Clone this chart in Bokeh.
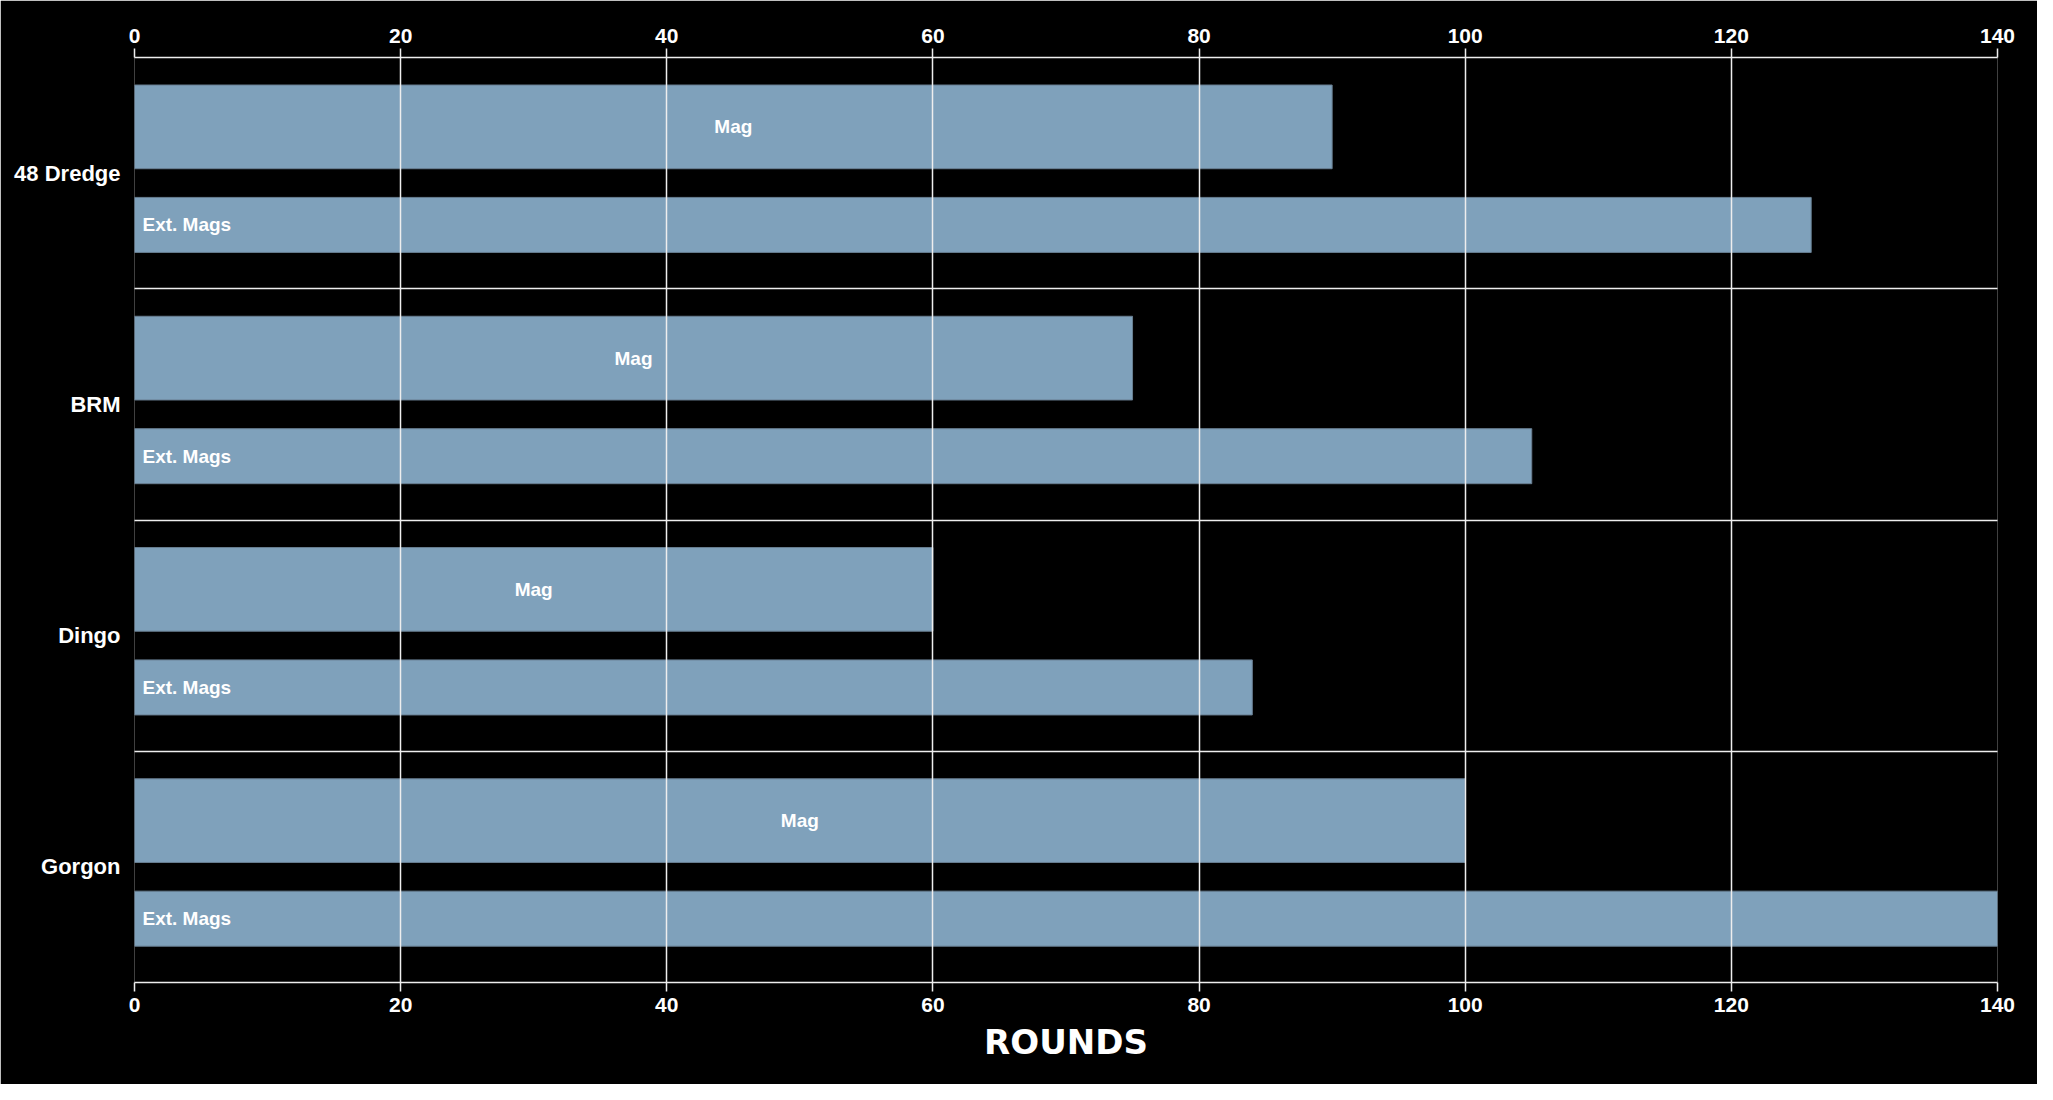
from bokeh.plotting import figure
from bokeh.models import ColumnDataSource, FixedTicker, LinearAxis, Range1d
from bokeh.core.properties import value
from bokeh.embed import file_html
from bokeh.resources import INLINE

categories = ["48 Dredge", "BRM", "Dingo", "Gorgon"]
mag_rounds = [90, 75, 60, 100]
ext_rounds = [126, 105, 84, 140]
bar_labels = ["Mag", "Ext. Mags"]
x_ticks = [0, 20, 40, 60, 80, 100, 120, 140]

n = len(categories)
tops = [n - i for i in range(n)]
mag_y = [t - 0.300 for t in tops]
ext_y = [t - 0.724 for t in tops]
cat_y = [t - 0.5 for t in tops]

FONT = "Liberation Sans"
BAR = "#7fa1bb"
EDGE = "#687e91"
GRID = "#eeeeee"

p = figure(width=2037, height=1084, output_backend="svg", toolbar_location=None,
           x_range=Range1d(0, 140), y_range=Range1d(0, n),
           x_axis_location=None, y_axis_location=None,
           min_border_left=134, min_border_right=40, min_border_top=57, min_border_bottom=102)
p.background_fill_color = "black"
p.border_fill_color = "black"
p.outline_line_color = None

mag_src = ColumnDataSource(dict(y=mag_y, right=mag_rounds, lx=[v / 2 for v in mag_rounds],
                                label=[bar_labels[0]] * n))
ext_src = ColumnDataSource(dict(y=ext_y, right=ext_rounds, lx=[0] * n,
                                label=[bar_labels[1]] * n))

p.hbar(y="y", left=0, right="right", height=0.362, source=mag_src,
       fill_color=BAR, line_color=EDGE, line_width=1)
p.hbar(y="y", left=0, right="right", height=0.238, source=ext_src,
       fill_color=BAR, line_color=EDGE, line_width=1)

p.text(x="lx", y="y", text="label", source=mag_src, text_align="center",
       text_baseline="middle", text_color="white", text_font=value(FONT),
       text_font_style="bold", text_font_size="19px")
p.text(x="lx", y="y", text="label", source=ext_src, text_align="left",
       text_baseline="middle", x_offset=8, text_color="white", text_font=value(FONT),
       text_font_style="bold", text_font_size="19px")

def style_x(ax):
    ax.ticker = FixedTicker(ticks=x_ticks)
    ax.axis_line_color = GRID
    ax.axis_line_width = 1.5
    ax.major_tick_line_color = GRID
    ax.major_tick_line_width = 1.5
    ax.major_tick_out = 9
    ax.major_tick_in = 0
    ax.minor_tick_line_color = None
    ax.major_label_text_color = "white"
    ax.major_label_text_font = FONT
    ax.major_label_text_font_style = "bold"
    ax.major_label_text_font_size = "21px"
    ax.major_label_standoff = 6

top_ax = LinearAxis()
style_x(top_ax)
p.add_layout(top_ax, "above")

bot_ax = LinearAxis(axis_label="ROUNDS")
style_x(bot_ax)
bot_ax.axis_label_text_color = "white"
bot_ax.axis_label_text_font = "DejaVu Sans"
bot_ax.axis_label_text_font_style = "bold"
bot_ax.axis_label_text_font_size = "34px"
bot_ax.axis_label_standoff = 7
p.add_layout(bot_ax, "below")

left_ax = LinearAxis()
left_ax.ticker = FixedTicker(ticks=cat_y)
left_ax.major_label_overrides = {y: c for y, c in zip(cat_y, categories)}
left_ax.axis_line_color = None
left_ax.major_tick_line_color = None
left_ax.minor_tick_line_color = None
left_ax.major_label_text_color = "white"
left_ax.major_label_text_font = FONT
left_ax.major_label_text_font_style = "bold"
left_ax.major_label_text_font_size = "22px"
left_ax.major_label_standoff = 8
p.add_layout(left_ax, "left")

for g in p.xgrid:
    g.ticker = FixedTicker(ticks=x_ticks)
for g in p.ygrid:
    g.ticker = FixedTicker(ticks=list(range(n + 1)))
for g in p.grid:
    g.grid_line_color = GRID
    g.grid_line_width = 1.5
    g.level = "overlay"

html = file_html(p, INLINE)
html = html.replace("<body>", '<body style="background:black">', 1)
open("out.html", "w").write(html)
